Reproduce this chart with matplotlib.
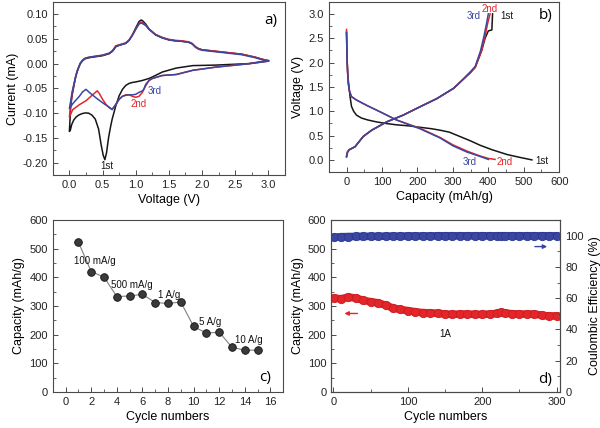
import matplotlib
matplotlib.use("Agg")
import matplotlib.pyplot as plt
from matplotlib.ticker import AutoMinorLocator, MultipleLocator, FormatStrFormatter

plt.rcParams['font.family'] = ['Liberation Sans', 'DejaVu Sans']

# ---------------- Panel a: CV curves ----------------
cv1_cath_v = [3.0, 2.7, 2.2, 1.86, 1.61, 1.4, 1.25, 1.2, 1.1, 1.0, 0.95, 0.9, 0.85, 0.8, 0.75, 0.7,
              0.645, 0.62, 0.59, 0.56, 0.535, 0.51, 0.48, 0.44, 0.39, 0.34, 0.29, 0.24, 0.19, 0.14,
              0.1, 0.065, 0.035, 0.015, 0.0]
cv1_cath_i = [0.006, 0.0, -0.003, -0.004, -0.009, -0.017, -0.027, -0.030, -0.034, -0.037, -0.038,
              -0.040, -0.044, -0.052, -0.065, -0.085, -0.112, -0.128, -0.150, -0.180, -0.194,
              -0.185, -0.165, -0.132, -0.112, -0.104, -0.100, -0.0995, -0.101, -0.104, -0.108,
              -0.114, -0.123, -0.134, -0.137]

cv2_cath_v = [3.0, 2.72, 2.21, 1.86, 1.61, 1.4, 1.25, 1.2, 1.15, 1.1, 1.05, 1.0, 0.95, 0.9, 0.85,
              0.8, 0.75, 0.7, 0.645, 0.6, 0.55, 0.5, 0.45, 0.42, 0.35, 0.25, 0.15, 0.05, 0.0]
cv2_cath_i = [0.005, 0.0, -0.007, -0.0135, -0.022, -0.024, -0.030, -0.034, -0.045, -0.058, -0.066,
              -0.068, -0.066, -0.063, -0.063, -0.066, -0.072, -0.083, -0.092, -0.089, -0.082,
              -0.072, -0.060, -0.055, -0.063, -0.075, -0.083, -0.093, -0.108]

cv3_cath_v = [3.0, 2.72, 2.21, 1.86, 1.61, 1.4, 1.25, 1.2, 1.15, 1.12, 1.1, 1.05, 1.0, 0.95, 0.9,
              0.85, 0.8, 0.75, 0.7, 0.645, 0.6, 0.5, 0.4, 0.3, 0.25, 0.2, 0.15, 0.05, 0.0]
cv3_cath_i = [0.005, 0.0, -0.007, -0.0135, -0.022, -0.024, -0.030, -0.034, -0.042, -0.052, -0.055,
              -0.058, -0.062, -0.063, -0.063, -0.064, -0.066, -0.072, -0.082, -0.093, -0.088,
              -0.079, -0.069, -0.058, -0.052, -0.057, -0.066, -0.081, -0.091]

cv_anod_v = [0.0, 0.02, 0.04, 0.065, 0.09, 0.115, 0.14, 0.165, 0.2, 0.24, 0.3, 0.4, 0.5, 0.6, 0.65,
             0.7, 0.75, 0.8, 0.85, 0.9, 0.95, 1.0, 1.05, 1.08, 1.1, 1.15, 1.2, 1.3, 1.4, 1.5, 1.6,
             1.7, 1.8, 1.85, 1.9, 1.95, 2.0, 2.2, 2.4, 2.6, 2.8, 2.9, 3.0]
cv1_anod_i = [-0.137, -0.087, -0.065, -0.047, -0.030, -0.017, -0.008, 0.0, 0.006, 0.010, 0.012,
              0.014, 0.016, 0.020, 0.025, 0.034, 0.037, 0.039, 0.041, 0.047, 0.058, 0.072, 0.085,
              0.088, 0.087, 0.080, 0.070, 0.058, 0.052, 0.048, 0.046, 0.045, 0.043, 0.040, 0.034,
              0.030, 0.028, 0.025, 0.022, 0.019, 0.013, 0.009, 0.006]
cv2_anod_i = [-0.108, -0.082, -0.062, -0.045, -0.029, -0.016, -0.007, 0.001, 0.007, 0.011, 0.013,
              0.015, 0.017, 0.021, 0.026, 0.036, 0.038, 0.040, 0.042, 0.048, 0.058, 0.070, 0.081,
              0.084, 0.083, 0.078, 0.070, 0.059, 0.053, 0.049, 0.047, 0.046, 0.044, 0.041, 0.034,
              0.030, 0.028, 0.025, 0.022, 0.019, 0.013, 0.009, 0.006]
cv3_anod_i = [-0.091, -0.075, -0.058, -0.043, -0.028, -0.016, -0.007, 0.001, 0.007, 0.011, 0.013,
              0.015, 0.017, 0.021, 0.026, 0.035, 0.037, 0.039, 0.041, 0.047, 0.057, 0.069, 0.080,
              0.082, 0.081, 0.077, 0.069, 0.058, 0.052, 0.048, 0.046, 0.045, 0.043, 0.040, 0.033,
              0.029, 0.027, 0.024, 0.021, 0.018, 0.012, 0.008, 0.005]

# ---------------- Panel b: charge/discharge ----------------
dis1_cap = [0, 2, 4, 7, 10, 14, 20, 28, 42, 60, 85, 110, 141, 175, 207, 240, 264, 290, 320, 350,
            377, 410, 453, 490, 523]
dis1_v = [2.62, 2.0, 1.7, 1.5, 1.3, 1.1, 1.0, 0.92, 0.86, 0.82, 0.78, 0.75, 0.72, 0.70, 0.67, 0.64,
          0.61, 0.57, 0.48, 0.39, 0.30, 0.21, 0.11, 0.05, 0.0]
ch1_cap = [0, 3, 8, 24, 47, 71, 113, 160, 207, 255, 302, 321, 348, 363, 381, 391, 400, 410, 412]
ch1_v = [0.08, 0.17, 0.21, 0.27, 0.48, 0.61, 0.78, 0.92, 1.09, 1.26, 1.47, 1.60, 1.78, 1.90, 2.24,
         2.50, 2.65, 2.67, 3.0]

dis2_cap = [0, 1, 3, 5, 8, 14, 28, 57, 94, 141, 207, 264, 300, 340, 377, 400, 419]
dis2_v = [2.68, 2.2, 1.8, 1.57, 1.42, 1.30, 1.23, 1.12, 0.99, 0.82, 0.65, 0.46, 0.31, 0.18, 0.08,
          0.03, 0.01]
ch2_cap = [0, 3, 8, 24, 47, 71, 113, 160, 207, 255, 302, 321, 348, 363, 381, 391, 398, 405]
ch2_v = [0.06, 0.16, 0.21, 0.27, 0.48, 0.61, 0.78, 0.92, 1.09, 1.26, 1.47, 1.60, 1.79, 1.90, 2.24,
         2.55, 2.80, 3.0]

dis3_cap = [0, 1, 3, 5, 8, 14, 28, 57, 94, 141, 207, 264, 300, 340, 377, 400]
dis3_v = [2.62, 2.2, 1.8, 1.57, 1.42, 1.30, 1.23, 1.12, 0.99, 0.82, 0.64, 0.45, 0.29, 0.16, 0.07,
          0.01]
ch3_cap = [0, 3, 8, 24, 47, 71, 113, 160, 207, 255, 302, 321, 348, 363, 378, 388, 395, 400]
ch3_v = [0.06, 0.16, 0.21, 0.27, 0.48, 0.61, 0.78, 0.92, 1.09, 1.26, 1.47, 1.60, 1.80, 1.92, 2.24,
         2.55, 2.80, 3.0]

# ---------------- Panel c: rate capability ----------------
rate_cycles = [1, 2, 3, 4, 5, 6, 7, 8, 9, 10, 11, 12, 13, 14, 15]
rate_capacity = [523, 420, 401, 333, 335, 341, 312, 309, 314, 229, 205, 209, 156, 146, 146]
rate_labels = ["100 mA/g", "500 mA/g", "1 A/g", "5 A/g", "10 A/g"]
rate_label_x = [2.3, 5.2, 8.1, 11.3, 14.3]
rate_label_y = [458, 374, 339, 244, 181]

# ---------------- Panel d: cycling ----------------
cyc_cycles = [1, 10, 20, 30, 40, 50, 60, 70, 80, 90, 100, 110, 120, 130, 140, 150, 160, 170, 180,
              190, 200, 210, 220, 225, 230, 240, 250, 260, 270, 280, 290, 300]
cyc_capacity = [328, 325, 331, 328, 320, 315, 311, 303, 293, 288, 284, 280, 277, 276, 275, 272,
                271, 272, 272, 271, 271, 272, 274, 278, 276, 273, 272, 272, 272, 268, 265, 266]
cyc_efficiency = [98.9, 99.3, 99.4, 99.5, 99.5, 99.6, 99.6, 99.7, 99.7, 99.7, 99.8, 99.8, 99.8,
                  99.8, 99.9, 99.9, 99.9, 99.9, 99.9, 99.9, 99.9, 99.9, 99.9, 99.9, 99.9, 99.9,
                  99.9, 99.9, 99.9, 99.9, 99.9, 99.9]

BLACK = '#161616'
RED = '#e4262b'
BLUE = '#3a46a0'
SPINE = '#4a4a4a'
TICK_FS = 8
LAB_FS = 9
ANN_FS = 7
PANEL_FONT = ['Open Sans', 'DejaVu Sans']


def style(ax, right=False):
    for s in ax.spines.values():
        s.set_color(SPINE)
        s.set_linewidth(0.8)
    ax.tick_params(which='both', direction='in', colors=SPINE, labelcolor='#222222',
                   labelsize=TICK_FS, top=False, right=right, left=not right)
    ax.tick_params(which='major', length=3.5, width=0.7)
    ax.tick_params(which='minor', length=2, width=0.6)


fig = plt.figure(figsize=(6.0, 4.28), dpi=100)

# ---- a ----
axa = fig.add_axes([0.088, 0.591, 0.387, 0.405])
axa.plot(cv1_cath_v + cv_anod_v, cv1_cath_i + cv1_anod_i, color=BLACK, lw=1.1)
axa.plot(cv2_cath_v + cv_anod_v, cv2_cath_i + cv2_anod_i, color=RED, lw=1.1)
axa.plot(cv3_cath_v + cv_anod_v, cv3_cath_i + cv3_anod_i, color=BLUE, lw=1.1)
axa.set_xlim(-0.25, 3.25)
axa.set_ylim(-0.225, 0.125)
axa.xaxis.set_major_locator(MultipleLocator(0.5))
axa.yaxis.set_major_locator(MultipleLocator(0.05))
axa.xaxis.set_minor_locator(AutoMinorLocator(2))
axa.yaxis.set_minor_locator(AutoMinorLocator(2))
axa.xaxis.set_major_formatter(FormatStrFormatter('%.1f'))
axa.yaxis.set_major_formatter(FormatStrFormatter('%.2f'))
style(axa)
axa.set_xlabel('Voltage (V)', fontsize=LAB_FS, labelpad=3)
axa.set_ylabel('Current (mA)', fontsize=LAB_FS, labelpad=3)
axa.text(0.56, -0.206, '1st', color=BLACK, fontsize=ANN_FS, ha='center', va='center')
axa.text(1.05, -0.082, '2nd', color=RED, fontsize=ANN_FS, ha='center', va='center')
axa.text(1.29, -0.055, '3rd', color=BLUE, fontsize=ANN_FS, ha='center', va='center')
axa.text(3.03, 0.088, 'a)', fontsize=11, ha='center', va='center', family=PANEL_FONT)

# ---- b ----
axb = fig.add_axes([0.548, 0.598, 0.384, 0.398])
axb.plot(dis1_cap, dis1_v, color=BLACK, lw=1.1)
axb.plot(ch1_cap, ch1_v, color=BLACK, lw=1.1)
axb.plot(dis2_cap, dis2_v, color=RED, lw=1.1)
axb.plot(ch2_cap, ch2_v, color=RED, lw=1.1)
axb.plot(dis3_cap, dis3_v, color=BLUE, lw=1.1)
axb.plot(ch3_cap, ch3_v, color=BLUE, lw=1.1)
axb.set_xlim(-50, 600)
axb.set_ylim(-0.25, 3.25)
axb.xaxis.set_major_locator(MultipleLocator(100))
axb.yaxis.set_major_locator(MultipleLocator(0.5))
axb.xaxis.set_minor_locator(AutoMinorLocator(2))
axb.yaxis.set_minor_locator(AutoMinorLocator(2))
axb.yaxis.set_major_formatter(FormatStrFormatter('%.1f'))
style(axb)
axb.set_xlabel('Capacity (mAh/g)', fontsize=LAB_FS, labelpad=3)
axb.set_ylabel('Voltage (V)', fontsize=LAB_FS, labelpad=3)
axb.text(453, 2.95, '1st', color=BLACK, fontsize=ANN_FS, ha='center', va='center')
axb.text(405, 3.1, '2nd', color=RED, fontsize=ANN_FS, ha='center', va='center')
axb.text(360, 2.96, '3rd', color=BLUE, fontsize=ANN_FS, ha='center', va='center')
axb.text(552, -0.02, '1st', color=BLACK, fontsize=ANN_FS, ha='center', va='center')
axb.text(447, -0.04, '2nd', color=RED, fontsize=ANN_FS, ha='center', va='center')
axb.text(348, -0.04, '3rd', color=BLUE, fontsize=ANN_FS, ha='center', va='center')
axb.text(561, 2.96, 'b)', fontsize=11, ha='center', va='center', family=PANEL_FONT)

# ---- c ----
axc = fig.add_axes([0.088, 0.084, 0.384, 0.402])
axc.plot(rate_cycles, rate_capacity, color='#808080', lw=0.8, marker='o', markersize=5.5,
         markerfacecolor='#3a3a3a', markeredgecolor='#111111', markeredgewidth=0.6)
axc.set_xlim(-1, 17)
axc.set_ylim(0, 600)
axc.xaxis.set_major_locator(MultipleLocator(2))
axc.yaxis.set_major_locator(MultipleLocator(100))
axc.xaxis.set_minor_locator(AutoMinorLocator(2))
axc.yaxis.set_minor_locator(AutoMinorLocator(2))
style(axc)
axc.set_xlabel('Cycle numbers', fontsize=LAB_FS, labelpad=3)
axc.set_ylabel('Capacity (mAh/g)', fontsize=LAB_FS, labelpad=3)
for lab, x, y in zip(rate_labels, rate_label_x, rate_label_y):
    axc.text(x, y, lab, fontsize=ANN_FS, ha='center', va='center', color='#111111')
axc.text(15.6, 49, 'c)', fontsize=11, ha='center', va='center', family=PANEL_FONT)

# ---- d ----
axd = fig.add_axes([0.552, 0.084, 0.382, 0.402])
axd.plot(cyc_cycles, cyc_capacity, color=RED, lw=5.5, solid_capstyle='round', marker='o',
         markersize=6, markerfacecolor=RED, markeredgecolor='#c81e22', markeredgewidth=0.6)
axd.set_xlim(-3, 305)
axd.set_ylim(0, 600)
axd.xaxis.set_major_locator(MultipleLocator(100))
axd.yaxis.set_major_locator(MultipleLocator(100))
axd.xaxis.set_minor_locator(AutoMinorLocator(2))
axd.yaxis.set_minor_locator(AutoMinorLocator(2))
style(axd)
axd.set_xlabel('Cycle numbers', fontsize=LAB_FS, labelpad=3)
axd.set_ylabel('Capacity (mAh/g)', fontsize=LAB_FS, labelpad=3)
axd.annotate('', xy=(11, 274), xytext=(36, 274),
             arrowprops=dict(arrowstyle='-|>', color=RED, lw=1.0, mutation_scale=6))
axd.text(150, 203, '1A', fontsize=ANN_FS, ha='center', va='center', color='#111111')
axd.text(285, 45, 'd)', fontsize=11, ha='center', va='center', family=PANEL_FONT)

axd2 = axd.twinx()
axd2.plot(cyc_cycles, cyc_efficiency, color=BLUE, lw=5.5, solid_capstyle='round', marker='o',
          markersize=6, markerfacecolor=BLUE, markeredgecolor='#2c3890', markeredgewidth=0.6)
axd2.set_ylim(0, 110)
axd2.yaxis.set_major_locator(MultipleLocator(20))
axd2.yaxis.set_minor_locator(AutoMinorLocator(2))
style(axd2, right=True)
axd2.set_ylabel('Coulombic Efficiency (%)', fontsize=LAB_FS, labelpad=4)
axd2.annotate('', xy=(291, 93), xytext=(267, 93),
              arrowprops=dict(arrowstyle='-|>', color=BLUE, lw=1.0, mutation_scale=6))

fig.savefig('out.png', dpi=100)
